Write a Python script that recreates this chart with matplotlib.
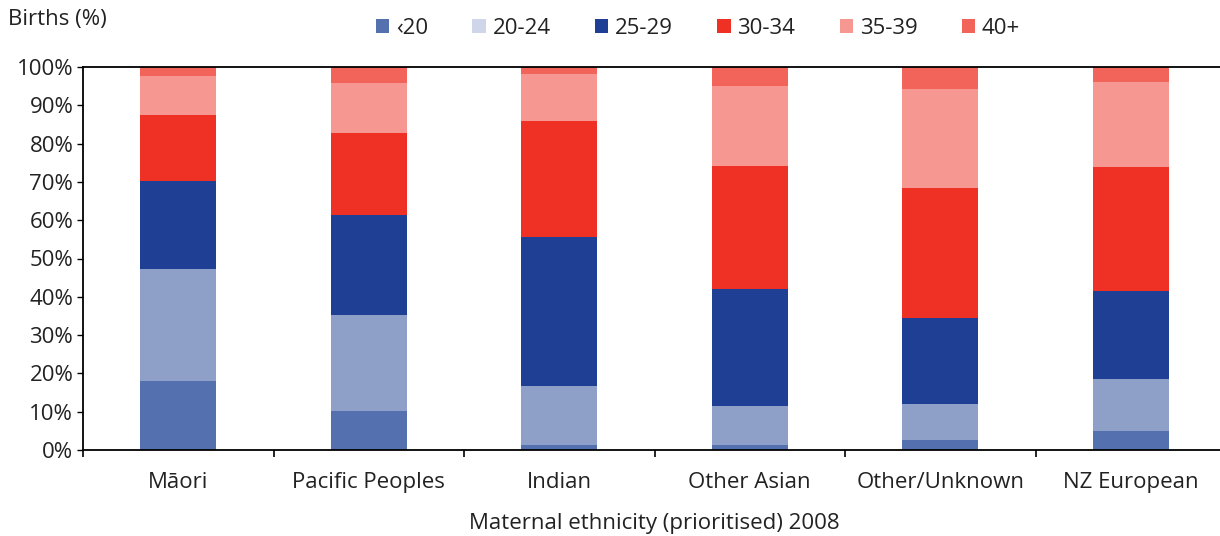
import numpy as np
import matplotlib
matplotlib.use('Agg')
from matplotlib import pyplot as plt
from matplotlib.patches import Patch

plt.rcParams['font.family'] = ['Open Sans', 'DejaVu Sans']

# Data (percent of births)
ethnicity = ['Māori', 'Pacific Peoples', 'Indian', 'Other Asian',
             'Other/Unknown', 'NZ European']
age_groups = ['‹20', '20-24', '25-29', '30-34', '35-39', '40+']
under20 = [18.0, 10.2, 1.3, 1.3, 2.6, 5.0]
age20_24 = [29.3, 25.0, 15.4, 10.2, 9.4, 13.5]
age25_29 = [22.9, 26.2, 38.9, 30.5, 22.5, 23.0]
age30_34 = [17.3, 21.4, 30.3, 32.2, 34.0, 32.4]
age35_39 = [10.1, 13.0, 12.3, 20.8, 25.8, 22.1]
age40plus = [2.4, 4.2, 1.8, 5.0, 5.7, 4.0]

series = [under20, age20_24, age25_29, age30_34, age35_39, age40plus]
bar_colors = ['#5470ae', '#8e9fc8', '#1e3f93', '#ee3124', '#f69891', '#f2645a']
legend_colors = ['#5470ae', '#d0d6ea', '#1e3f93', '#ee3124', '#f69891', '#f2645a']

fs = 16
txt = '#222222'

fig = plt.figure(figsize=(12.2, 5.36), dpi=100, facecolor='white')
# axes runs past the right edge, as in the cropped original
ax = fig.add_axes([83/1220, (536-450)/536, 1143/1220, 383/536])

x = np.arange(len(ethnicity))
bottom = np.zeros(len(ethnicity))
for vals, col in zip(series, bar_colors):
    ax.bar(x, vals, width=0.4, bottom=bottom, color=col, linewidth=0)
    bottom += np.array(vals)

ax.set_xlim(-0.5, len(ethnicity) - 0.5)
ax.set_ylim(0, 100)
ax.set_yticks(np.arange(0, 101, 10))
ax.set_yticklabels([f'{v}%' for v in range(0, 101, 10)], fontsize=fs,
                   color=txt)
ax.set_xticks(x)
ax.set_xticklabels(ethnicity, fontsize=fs, color=txt)
ax.tick_params(axis='x', which='major', length=0, pad=16)
ax.set_xticks(np.arange(-0.5, len(ethnicity)), minor=True)
ax.tick_params(axis='x', which='minor', length=5, width=1.2, direction='out')
ax.tick_params(axis='y', length=4, width=1, direction='out', pad=3)

for s in ['left', 'bottom', 'top']:
    ax.spines[s].set_color('black')
    ax.spines[s].set_linewidth(1.3)
ax.spines['right'].set_visible(False)

ax.set_xlabel('Maternal ethnicity (prioritised) 2008', fontsize=fs,
              color=txt, labelpad=14)
fig.text(8/1220, 1 - 20/536, 'Births (%)', fontsize=fs, color=txt,
         va='center', ha='left')

handles = [Patch(facecolor=c, edgecolor='none') for c in legend_colors]
fig.legend(handles, age_groups, loc='center', ncol=6,
           bbox_to_anchor=(698/1220, 1 - 28/536), frameon=False,
           fontsize=fs, handlelength=0.6, handleheight=0.6,
           handletextpad=0.3, columnspacing=2.0, labelcolor=txt)

fig.savefig('out.png', dpi=100, facecolor='white')
